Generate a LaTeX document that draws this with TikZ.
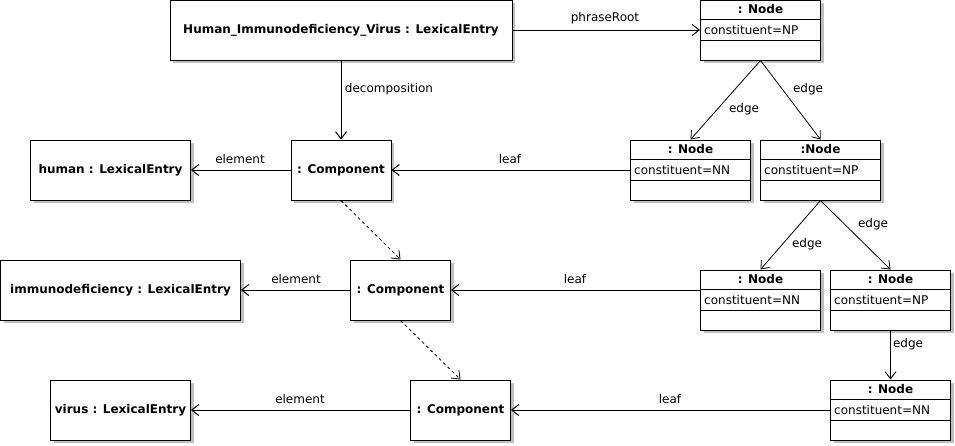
\documentclass[tikz,border=0pt]{standalone}
\usepackage{fontspec}
\setmainfont{DejaVu Sans}
\usetikzlibrary{arrows.meta,calc,shadows}
\newcommand\umlnode[5]{%
  \node[nodebox] (#1) at (#2,#3) {};
  \node[ntitle] (#1-t) at ($(#1.north)+(0,10)$) {#4};
  \node[nattr] (#1-a) at (#1.west) {#5};
  \draw[sepline] ($(#1.north west)+(0,20)$) -- ($(#1.north east)+(0,20)$);
  \draw[sepline] ($(#1.south west)+(0,-20)$) -- ($(#1.south east)+(0,-20)$);
}
\begin{document}
\begin{tikzpicture}[x=1pt,y=-1pt,
  font=\fontsize{12}{14}\selectfont,
  ubox/.style={draw=black, line width=1pt, fill=white, inner sep=0pt,
    minimum height=60pt, font=\fontsize{12}{14}\selectfont\bfseries,
    drop shadow={shadow xshift=3pt, shadow yshift=-3pt, fill=black!25, opacity=1}},
  nodebox/.style={ubox, minimum width=120pt},
  ntitle/.style={inner sep=0pt, font=\fontsize{12}{14}\selectfont\bfseries},
  nattr/.style={anchor=west, inner xsep=4pt, inner ysep=0pt},
  sepline/.style={line width=1pt},
  lbl/.style={inner sep=0pt, text=black},
  arr/.style={line width=1pt, -{Straight Barb[length=7pt,width=11pt]}},
  darr/.style={line width=0.8pt, dash pattern=on 3pt off 3pt, -{Straight Barb[length=7pt,width=11pt]}},
  earr/.style={line width=0.8pt, -{Straight Barb[length=7pt,width=11pt]}}
]
\useasboundingbox (0,0) rectangle (955,445);

% lexical entries and components
\node[ubox, minimum width=342pt] (hiv) at (341,30) {Human\_Immunodeficiency\_Virus : LexicalEntry};
\node[ubox, minimum width=160pt] (human) at (110.5,170) {human : LexicalEntry};
\node[ubox, minimum width=100pt] (c1) at (341,170) {: Component};
\node[ubox, minimum width=240pt] (immuno) at (120.5,290) {immunodeficiency : LexicalEntry};
\node[ubox, minimum width=100pt] (c2) at (400.5,290) {: Component};
\node[ubox, minimum width=140pt] (virus) at (120.5,410) {virus : LexicalEntry};
\node[ubox, minimum width=100pt] (c3) at (460.5,410) {: Component};

% syntax tree nodes
\umlnode{n1}{760.5}{30}{: Node}{constituent=NP}
\umlnode{n2}{690.5}{170}{: Node}{constituent=NN}
\umlnode{n3}{820.5}{170}{:Node}{constituent=NP}
\umlnode{n4}{760.5}{300}{: Node}{constituent=NN}
\umlnode{n5}{890.5}{300}{: Node}{constituent=NP}
\umlnode{n6}{890.5}{410}{: Node}{constituent=NN}

% connectors
\draw[arr] (hiv.east) -- (n1.west);
\draw[arr] (hiv.south) -- (c1.north);
\draw[arr] (c1.west) -- (human.east);
\draw[arr] (c2.west) -- (immuno.east);
\draw[arr] (c3.west) -- (virus.east);
\draw[arr] (n2.west) -- (c1.east);
\draw[arr] (n4.west |- c2.east) -- (c2.east);
\draw[arr] (n6.west) -- (c3.east);
\draw[darr] (c1.south) -- (c2.north);
\draw[darr] (c2.south) -- (c3.north);
\draw[earr] (n1.south) -- (n2.north);
\draw[earr] (n1.south) -- (n3.north);
\draw[earr] (n3.south) -- (n4.north);
\draw[earr] (n3.south) -- (n5.north);
\draw[arr] (n5.south) -- (n6.north);

% labels
\node[lbl] (lphrase) at (605,18) {phraseRoot};
\node[lbl] (ldecomp) at (389,89) {decomposition};
\node[lbl] (lel1) at (240,159) {element};
\node[lbl] (lel2) at (296,279) {element};
\node[lbl] (lel3) at (300,399) {element};
\node[lbl] (lleaf1) at (510,159) {leaf};
\node[lbl] (lleaf2) at (575,279) {leaf};
\node[lbl] (lleaf3) at (670,399) {leaf};
\node[lbl] (le1) at (744,109) {edge};
\node[lbl] (le2) at (808,89) {edge};
\node[lbl] (le3) at (807,244) {edge};
\node[lbl] (le4) at (873,224) {edge};
\node[lbl] (le5) at (908,344) {edge};
\end{tikzpicture}
\end{document}
